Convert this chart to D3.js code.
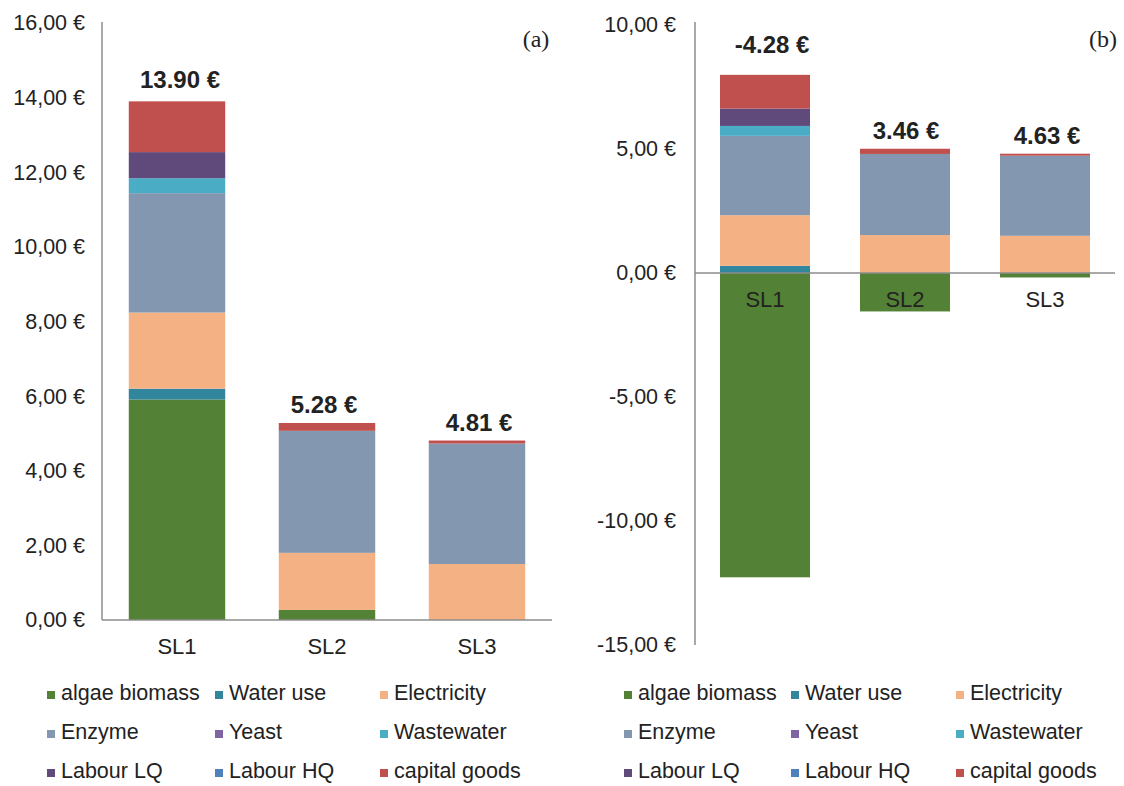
<!DOCTYPE html>
<html>
<head>
<meta charset="utf-8">
<script src="https://cdn.jsdelivr.net/npm/d3@7/dist/d3.min.js"></script>
<style>
  html, body { margin: 0; padding: 0; background: #fff; }
  svg { display: block; }
  text { font-family: Arial, "Liberation Sans", sans-serif; fill: #222; }
</style>
</head>
<body>
<svg id="chart" width="1124" height="786"></svg>
<script>
// Cost components per scenario (€)
const categories = ["SL1", "SL2", "SL3"];
const seriesNames = ["algae biomass", "Water use", "Electricity", "Enzyme", "Yeast",
                     "Wastewater", "Labour LQ", "Labour HQ", "capital goods"];
const seriesColors = ["#538135", "#31859C", "#F4B183", "#8497B0", "#8064A2",
                      "#4BACC6", "#604A7B", "#4F81BD", "#C0504D"];

// Panel (a): algae biomass counted as a cost
const algaeA      = [5.91, 0.27, 0.00];
// Panel (b): algae biomass counted as a credit
const algaeB      = [-12.27, -1.55, -0.18];
// Components shared by both panels
const waterUse    = [0.29, 0.00, 0.00];
const electricity = [2.04, 1.53, 1.50];
const enzyme      = [3.20, 3.27, 3.23];
const yeast       = [0.00, 0.00, 0.00];
const wastewater  = [0.40, 0.00, 0.00];
const labourLQ    = [0.70, 0.00, 0.00];
const labourHQ    = [0.00, 0.00, 0.00];
const capital     = [1.36, 0.21, 0.08];

const ticksA = [0, 2, 4, 6, 8, 10, 12, 14, 16];
const ticksB = [-15, -10, -5, 0, 5, 10];

function buildRows(algae) {
  const cols = [algae, waterUse, electricity, enzyme, yeast, wastewater, labourLQ, labourHQ, capital];
  return categories.map((c, i) => {
    const row = { cat: c };
    seriesNames.forEach((s, j) => { row[s] = cols[j][i]; });
    return row;
  });
}

const svg = d3.select("#chart");
const euroLocale = d3.formatLocale({ decimal: ",", thousands: ".", grouping: [3], currency: ["", " €"], minus: "-" });
const tickFmt = v => euroLocale.format(".2f")(v) + " €";
const totalFmt = v => d3.format(".2f")(v).replace("\u2212", "-") + " €";

function drawPanel(cfg) {
  const rows = buildRows(cfg.algae);
  const x = d3.scaleBand().domain(categories).range(cfg.xRange)
    .paddingInner(0.357).paddingOuter(0.1785);
  const y = d3.scaleLinear().domain(cfg.yDomain).range(cfg.yRange);

  const stack = d3.stack().keys(seriesNames).offset(d3.stackOffsetDiverging);
  const layers = stack(rows);

  const g = svg.append("g");

  // y axis with euro tick labels
  const yAxis = d3.axisLeft(y).tickValues(cfg.ticks).tickFormat(tickFmt)
    .tickSize(0).tickPadding(cfg.tickPad);
  const ay = g.append("g").attr("transform", `translate(${cfg.xRange[0]},0)`).call(yAxis);
  ay.select(".domain").attr("stroke", "#8c8c8c").attr("stroke-width", 1.5)
    .attr("d", `M0,${cfg.axisTop}V${cfg.yRange[0]}`);
  ay.selectAll("text").attr("font-size", 21.5).attr("fill", "#222")
    .attr("font-family", "Arial, 'Liberation Sans', sans-serif");

  // stacked bars
  g.append("g").selectAll("g").data(layers).join("g")
    .attr("fill", (d, i) => seriesColors[i])
    .selectAll("rect").data(d => d).join("rect")
    .attr("x", d => x(d.data.cat))
    .attr("width", x.bandwidth())
    .attr("y", d => y(Math.max(d[0], d[1])))
    .attr("height", d => Math.abs(y(d[0]) - y(d[1])));

  // zero line
  g.append("line")
    .attr("x1", cfg.xRange[0]).attr("x2", cfg.xRange[1])
    .attr("y1", y(0)).attr("y2", y(0))
    .attr("stroke", "#8c8c8c").attr("stroke-width", 1.5);

  // category labels
  g.append("g").selectAll("text").data(categories).join("text")
    .attr("x", c => x(c) + x.bandwidth() / 2)
    .attr("y", y(0) + 34)
    .attr("text-anchor", "middle")
    .attr("font-size", 22)
    .text(c => c);

  // net totals above each bar
  g.append("g").selectAll("text").data(rows).join("text")
    .attr("x", (d, i) => x(d.cat) + x.bandwidth() / 2 + cfg.labelDx[i])
    .attr("y", (d, i) => {
      const top = d3.sum(seriesNames, s => Math.max(0, d[s]));
      return y(top) - 10 + cfg.labelDy[i];
    })
    .attr("text-anchor", "middle")
    .attr("font-size", 24)
    .attr("font-weight", "bold")
    .attr("fill", "#1a1a1a")
    .text(d => totalFmt(d3.sum(seriesNames, s => d[s])));

  // panel tag
  g.append("text")
    .attr("x", cfg.tagX).attr("y", 47)
    .attr("text-anchor", "middle")
    .style("font-family", "'Liberation Serif', 'Times New Roman', serif")
    .attr("font-size", 24)
    .text(cfg.tag);

  // legend, three rows of three
  const leg = g.append("g");
  seriesNames.forEach((s, i) => {
    const col = i % 3, row = Math.floor(i / 3);
    const tx = cfg.legendX[col];
    const ty = 700 + row * 39;
    leg.append("rect").attr("x", tx - 14).attr("y", ty - 9).attr("width", 8).attr("height", 8)
      .attr("fill", seriesColors[i]);
    leg.append("text").attr("x", tx).attr("y", ty).attr("font-size", 21.5).text(s);
  });
}

drawPanel({
  algae: algaeA, xRange: [102, 552], yDomain: [0, 16], yRange: [620, 23],
  ticks: ticksA, tickPad: 17, axisTop: 22, tag: "(a)", tagX: 536,
  labelDx: [3, -3, 2], labelDy: [-3, 0, 0], legendX: [61, 229, 394]
});
drawPanel({
  algae: algaeB, xRange: [695, 1115], yDomain: [-15, 10], yRange: [645, 25],
  ticks: ticksB, tickPad: 19, axisTop: 22, tag: "(b)", tagX: 1103,
  labelDx: [7, 1, 2], labelDy: [-12, 0, 0], legendX: [638, 805, 970]
});
</script>
</body>
</html>
